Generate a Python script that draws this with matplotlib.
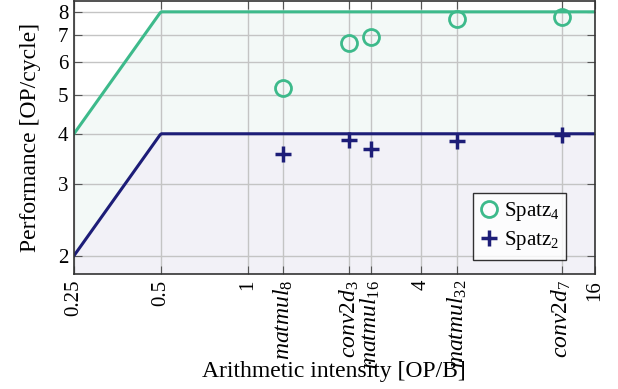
import numpy as np
import matplotlib
matplotlib.use("Agg")
import matplotlib.pyplot as plt

plt.rcParams['font.family'] = ['Liberation Serif', 'DejaVu Serif']
plt.rcParams['mathtext.fontset'] = 'custom'
plt.rcParams['mathtext.rm'] = 'Liberation Serif'
plt.rcParams['mathtext.it'] = 'Liberation Serif:italic'

# kernels (arithmetic intensity, OP/B)
kernels = [r'$\mathit{matmul}_{8}$', r'$\mathit{conv2d}_{3}$', r'$\mathit{matmul}_{16}$',
           r'$\mathit{matmul}_{32}$', r'$\mathit{conv2d}_{7}$']
intensity = [1.33, 2.25, 2.67, 5.33, 12.25]

# measured performance [OP/cycle]
perf_spatz4 = [5.19, 6.70, 6.92, 7.67, 7.79]
perf_spatz2 = [3.56, 3.87, 3.67, 3.84, 3.98]

# roofline parameters
peak4, bw4 = 8, 16
peak2, bw2 = 4, 8

green = '#3dba8b'
navy = '#1d1d78'

fig = plt.figure(figsize=(6.18, 3.89), dpi=100)
ax = fig.add_axes([0.1197, 0.295, 0.8431, 0.702])

x = np.logspace(np.log2(0.25), np.log2(16), 400, base=2)
roof4 = np.minimum(peak4, bw4 * x)
roof2 = np.minimum(peak2, bw2 * x)

ax.fill_between(x, 0, roof4, color='#f3f9f7', zorder=0)
ax.fill_between(x, 0, roof2, color='#f2f1f7', zorder=0.5)
ax.plot(x, roof4, color=green, lw=2.2, zorder=3)
ax.plot(x, roof2, color=navy, lw=2.2, zorder=3)

ax.plot(intensity, perf_spatz4, 'o', ms=11.5, mfc='none', mec=green, mew=2.0,
        label=r'Spatz$_4$', zorder=4)
ax.plot(intensity, perf_spatz2, '+', ms=11, mec=navy, mew=2.5,
        label=r'Spatz$_2$', zorder=4)

ax.set_xscale('log', base=2)
ax.set_yscale('log', base=2)
ax.set_xlim(0.25, 16)
ax.set_ylim(1.8, 8.5)

num_ticks = [0.25, 0.5, 1, 4, 16]
num_labels = ['0.25', '0.5', '1', '4', '16']
ax.set_xticks(num_ticks + intensity)
labels = ax.set_xticklabels(num_labels + kernels, rotation=90, fontsize=15)
for lab in labels[len(num_ticks):]:
    lab.set_fontsize(17)
ax.xaxis.set_minor_locator(matplotlib.ticker.NullLocator())

yt = [2, 3, 4, 5, 6, 7, 8]
ax.set_yticks(yt)
ax.set_yticklabels([str(v) for v in yt], fontsize=15)
ax.yaxis.set_minor_locator(matplotlib.ticker.NullLocator())

ax.tick_params(direction='in', top=True, right=True, length=6, width=0.8,
               color='#555555', pad=4)
ax.grid(True, color='#c4c4c4', lw=1.0, zorder=1)
ax.set_axisbelow(False)
for s in ax.spines.values():
    s.set_color('#333333')
    s.set_linewidth(1.2)
    s.set_zorder(5)

fig.text(0.54, 0.044, 'Arithmetic intensity [OP/B]', fontsize=17,
         ha='center', va='center')
ax.set_ylabel('Performance [OP/cycle]', fontsize=17, labelpad=12)

leg = ax.legend(loc='lower right', bbox_to_anchor=(0.965, 0.015), fontsize=15,
                frameon=True, fancybox=False, edgecolor='black',
                handlelength=0.8, handletextpad=0.3, borderpad=0.35,
                labelspacing=0.3)
leg.get_frame().set_linewidth(1.0)

fig.savefig('out.png', dpi=100)
